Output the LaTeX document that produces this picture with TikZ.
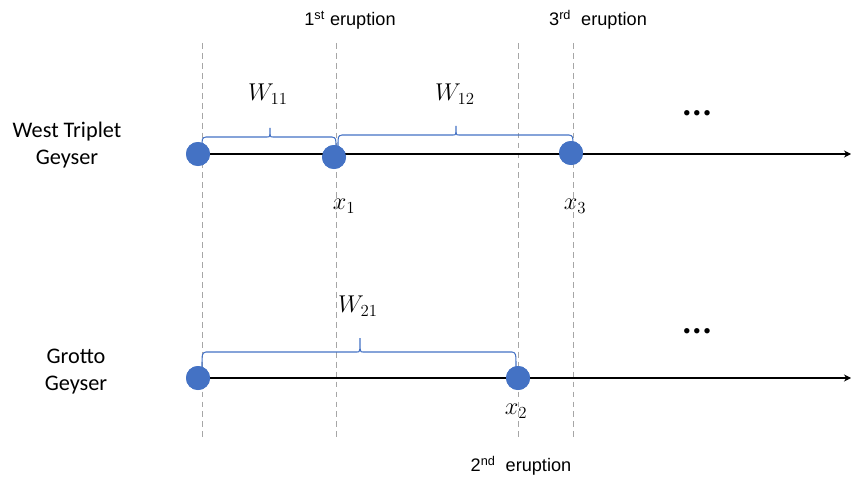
\documentclass[tikz,border=0pt]{standalone}
\usepackage{fontspec}
\setmainfont{Carlito}
\newfontfamily\arialfont{Liberation Sans}
\usetikzlibrary{arrows.meta}
\definecolor{offblue}{HTML}{4472C4}
\definecolor{guidegray}{HTML}{A6A6A6}
\newcommand\geybrace[5]{%
\draw[brace](#1,#3+#5)..controls(#1,#3+1)..(#1+4,#3)--(#4-3,#3)..controls(#4,#3)..(#4,#3-#5+2)
..controls(#4,#3)..(#4+3,#3)--(#2-4,#3)..controls(#2,#3+1)..(#2,#3+#5);}
\begin{document}
\begin{tikzpicture}[x=0.03cm,y=-0.03cm,
dot/.style={circle,fill=offblue,inner sep=0pt,minimum size=0.72cm},
axis/.style={line width=0.9pt,-{Stealth[length=6pt,width=6pt]}},
guide/.style={guidegray,line width=0.8pt,dash pattern=on 5pt off 3.5pt},
brace/.style={offblue,line width=0.9pt},
lab/.style={font=\fontsize{19}{23}\selectfont,align=center},
erup/.style={font=\arialfont\fontsize{15.5}{18}\selectfont},
mlab/.style={font=\fontsize{20}{22}\selectfont},
more/.style={font=\fontsize{13}{15}\selectfont}]
\useasboundingbox(0,0)rectangle(851,481);
\foreach \gx in {202,336,518,573}\draw[guide](\gx,43)--(\gx,440);
\coordinate(tend)at(851,154);
\coordinate(bend)at(851,378);
\node[dot](t0)at(198,154){};
\node[dot](t1)at(334,157){};
\node[dot](t3)at(571,153){};
\node[dot](b0)at(198,378){};
\node[dot](b2)at(518,378){};
\draw[axis](t0.center)--(tend);
\draw[axis](b0.center)--(bend);
\node[dot]at(t0){};\node[dot]at(t1){};\node[dot]at(t3){};
\node[dot]at(b0){};\node[dot]at(b2){};
\geybrace{202}{336}{137}{270}{11}
\geybrace{338}{573}{135}{456}{11}
\geybrace{202}{516}{352}{360}{16}
\node[mlab](w11)at(268,94){$W_{11}$};
\node[mlab](w12)at(455,94){$W_{12}$};
\node[mlab](w21)at(358,306){$W_{21}$};
\node[mlab](x1)at(344,206){$x_1$};
\node[mlab](x3)at(575,206){$x_3$};
\node[mlab](x2)at(516,411){$x_2$};
\node[erup](e1)at(350,20){1\textsuperscript{st} eruption};
\node[erup](e3)at(598,20){3\textsuperscript{rd}\ \ eruption};
\node[erup](e2)at(521,466){2\textsuperscript{nd}\ \ eruption};
\node[lab](wt)at(67,145){West Triplet\\Geyser};
\node[lab](gg)at(76,372){Grotto\\Geyser};
\node[more](d1)at(697,114){\textbullet\,\textbullet\,\textbullet};
\node[more](d2)at(697,332){\textbullet\,\textbullet\,\textbullet};
\end{tikzpicture}
\end{document}
